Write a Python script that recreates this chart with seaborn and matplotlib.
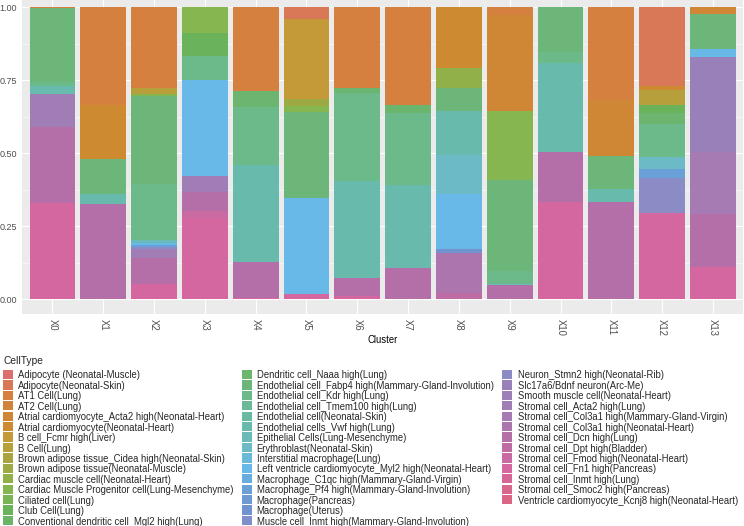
import numpy as np
import pandas as pd
import matplotlib
matplotlib.use("Agg")
import matplotlib.pyplot as plt
from matplotlib.patches import Rectangle
from matplotlib.colors import to_rgb
from matplotlib.ticker import MultipleLocator
import seaborn as sns

# cell types (legend order, first one is stacked on top)
cell_types = [
    "Adipocyte (Neonatal-Muscle)", "Adipocyte(Neonatal-Skin)", "AT1 Cell(Lung)", "AT2 Cell(Lung)",
    "Atrial cardiomyocyte_Acta2 high(Neonatal-Heart)", "Atrial cardiomyocyte(Neonatal-Heart)",
    "B cell_Fcmr high(Liver)", "B Cell(Lung)", "Brown adipose tissue_Cidea high(Neonatal-Skin)",
    "Brown adipose tissue(Neonatal-Muscle)", "Cardiac muscle cell(Neonatal-Heart)",
    "Cardiac Muscle Progenitor cell(Lung-Mesenchyme)", "Ciliated cell(Lung)", "Club Cell(Lung)",
    "Conventional dendritic cell_Mgl2 high(Lung)", "Dendritic cell_Naaa high(Lung)",
    "Endothelial cell_Fabp4 high(Mammary-Gland-Involution)", "Endothelial cell_Kdr high(Lung)",
    "Endothelial cell_Tmem100 high(Lung)", "Endothelial cell(Neonatal-Skin)",
    "Endothelial cells_Vwf high(Lung)", "Epithelial Cells(Lung-Mesenchyme)",
    "Erythroblast(Neonatal-Skin)", "Interstitial macrophage(Lung)",
    "Left ventricle cardiomyocyte_Myl2 high(Neonatal-Heart)",
    "Macrophage_C1qc high(Mammary-Gland-Virgin)", "Macrophage_Pf4 high(Mammary-Gland-Involution)",
    "Macrophage(Pancreas)", "Macrophage(Uterus)", "Muscle cell_Inmt high(Mammary-Gland-Involution)",
    "Neuron_Stmn2 high(Neonatal-Rib)", "Slc17a6/Bdnf neuron(Arc-Me)", "Smooth muscle cell(Neonatal-Heart)",
    "Stromal cell_Acta2 high(Lung)", "Stromal cell_Col3a1 high(Mammary-Gland-Virgin)",
    "Stromal cell_Col3a1 high(Neonatal-Heart)", "Stromal cell_Dcn high(Lung)",
    "Stromal cell_Dpt high(Bladder)", "Stromal cell_Fmod high(Neonatal-Heart)",
    "Stromal cell_Fn1 high(Pancreas)", "Stromal cell_Inmt high(Lung)",
    "Stromal cell_Smoc2 high(Pancreas)", "Ventricle cardiomyocyte_Kcnj8 high(Neonatal-Heart)",
]

clusters = ["X%d" % i for i in range(14)]

# composition per cluster: {cell type index: proportion}
comp_x0 = {2: 0.003, 16: 0.251, 17: 0.014, 20: 0.026, 33: 0.112, 36: 0.259, 39: 0.328}
comp_x1 = {2: 0.335, 5: 0.186, 16: 0.120, 20: 0.033, 36: 0.326}
comp_x2 = {2: 0.276, 7: 0.023, 11: 0.005, 16: 0.302, 17: 0.192, 21: 0.010, 24: 0.007,
           26: 0.008, 30: 0.007, 33: 0.031, 36: 0.088, 39: 0.052}
comp_x3 = {11: 0.088, 13: 0.080, 17: 0.083, 24: 0.327, 33: 0.054, 36: 0.065, 38: 0.026, 39: 0.277}
comp_x4 = {2: 0.286, 15: 0.055, 17: 0.200, 20: 0.333, 36: 0.121, 39: 0.006}
comp_x5 = {1: 0.042, 6: 0.273, 9: 0.024, 11: 0.019, 16: 0.295, 24: 0.328, 39: 0.018}
comp_x6 = {2: 0.276, 15: 0.017, 17: 0.302, 20: 0.331, 36: 0.063, 39: 0.011}
comp_x7 = {2: 0.335, 15: 0.029, 17: 0.246, 20: 0.282, 36: 0.108}
comp_x8 = {5: 0.210, 10: 0.066, 16: 0.080, 20: 0.151, 22: 0.132, 24: 0.189, 28: 0.015,
           35: 0.135, 37: 0.023}
comp_x9 = {2: 0.027, 4: 0.327, 11: 0.237, 16: 0.311, 17: 0.046, 21: 0.004, 36: 0.048}
comp_x10 = {16: 0.153, 17: 0.038, 20: 0.304, 36: 0.171, 39: 0.334}
comp_x11 = {2: 0.318, 4: 0.190, 16: 0.115, 20: 0.042, 36: 0.334}
comp_x12 = {1: 0.270, 5: 0.014, 7: 0.052, 13: 0.027, 15: 0.036, 17: 0.112, 22: 0.043,
            26: 0.029, 30: 0.122, 39: 0.294}
comp_x13 = {4: 0.024, 16: 0.121, 24: 0.025, 31: 0.325, 34: 0.213, 36: 0.182, 39: 0.109}

comps = [comp_x0, comp_x1, comp_x2, comp_x3, comp_x4, comp_x5, comp_x6,
         comp_x7, comp_x8, comp_x9, comp_x10, comp_x11, comp_x12, comp_x13]

# muted hue wheel, anchor colours picked off the picture and blended between
anchor_idx = [0, 2, 5, 6, 8, 11, 13, 16, 17, 20, 22, 24, 26, 28, 30, 31, 33, 34, 36, 39, 42]
anchor_col = ["#DA6F6E", "#D5803F", "#CD8A30", "#C49A38", "#A9A43F", "#85B64F", "#6BB35A",
              "#6DB67A", "#6CB98A", "#68BAAD", "#6BBAC6", "#68B8E8", "#6AA0D8", "#7193CF",
              "#8B8BC6", "#9A80B9", "#A07DB5", "#A67BB4", "#B46FA8", "#D4679F", "#DB6584"]
anchor_rgb = np.array([to_rgb(c) for c in anchor_col])
n = len(cell_types)
palette = [tuple(np.interp(i, anchor_idx, anchor_rgb[:, j]) for j in range(3)) for i in range(n)]

rows = []
for cl, comp in zip(clusters, comps):
    for k, p in comp.items():
        rows.append((cl, cell_types[k], p))
df = pd.DataFrame(rows, columns=["Cluster", "CellType", "prop"])
df["Cluster"] = pd.Categorical(df["Cluster"], categories=clusters)

sns.set_theme(style="darkgrid")
plt.rcParams["font.family"] = ["Liberation Sans", "DejaVu Sans"]

W, H = 744, 526
fig = plt.figure(figsize=(W / 72, H / 72), dpi=72)
# panel: x 22..743 px, y -7.6..314 px from top
ax = fig.add_axes([22 / W, 1 - 314 / H, 721.4 / W, 321.6 / H])
ax.set_facecolor("#EBEBEB")

sns.histplot(data=df, x="Cluster", weights="prop", hue="CellType", hue_order=cell_types,
             palette=palette, multiple="fill", discrete=True, shrink=0.9,
             linewidth=0, alpha=1, legend=False, ax=ax)

ax.set_xlim(-0.6, 13.6)
ax.set_ylim(-0.05, 1.05)
ax.set_xticks(range(len(clusters)))
ax.set_xticklabels(clusters, rotation=-90, va="top", ha="center")
ax.yaxis.set_major_locator(MultipleLocator(0.25))
ax.yaxis.set_minor_locator(MultipleLocator(0.125))
ax.yaxis.set_major_formatter(plt.FormatStrFormatter("%.2f"))
ax.grid(True, which="major", color="white", linewidth=1.1)
ax.grid(True, which="minor", axis="y", color="white", linewidth=0.55)
ax.set_axisbelow(True)
for s in ax.spines.values():
    s.set_visible(False)
ax.tick_params(axis="both", which="major", length=2.75, width=1.0, color="#333333",
               labelcolor="#4D4D4D", pad=2.2)
ax.tick_params(axis="y", labelsize=9.0)
ax.tick_params(axis="x", labelsize=9.5)
ax.tick_params(axis="both", which="minor", length=0)
ax.set_ylabel("")
ax.set_xlabel("Cluster", fontsize=9.5, color="black", labelpad=-1)

# legend: three columns of 15 / 15 / 13 keys
fig.text(3 / W, 1 - 360.5 / H, "CellType", fontsize=10.2, ha="left", va="center")
col_key_x = [3, 242, 502]
col_txt_x = [18.3, 256.7, 517.7]
for i, name in enumerate(cell_types):
    col, row = divmod(i, 15)
    yc = 374.5 + 10.43 * row
    fig.add_artist(Rectangle((col_key_x[col] / W, 1 - (yc + 4.6) / H), 10 / W, 9.2 / H,
                             transform=fig.transFigure, facecolor=palette[i], edgecolor="none"))
    fig.text(col_txt_x[col] / W, 1 - yc / H, name, fontsize=9.5, ha="left", va="center_baseline")

fig.savefig("out.png", dpi=72, facecolor="white")
